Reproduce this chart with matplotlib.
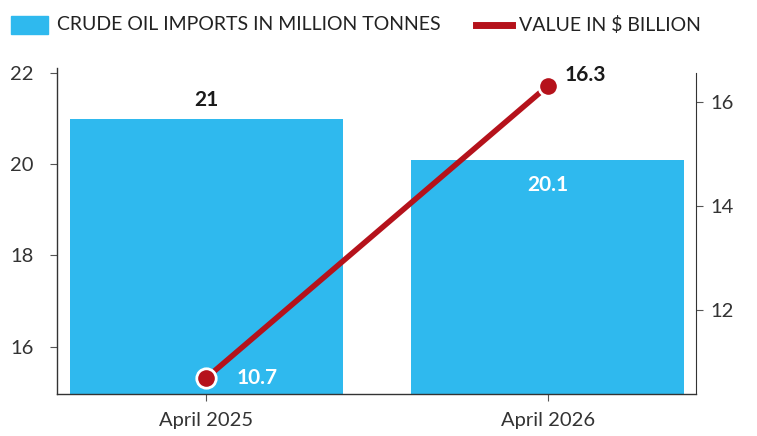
import matplotlib
matplotlib.use("Agg")
import matplotlib.pyplot as plt
from matplotlib.patches import Rectangle
from matplotlib.lines import Line2D

categories = ["April 2025", "April 2026"]
imports_mt = [21, 20.1]
value_bn = [10.7, 16.3]
left_ticks = [16, 18, 20, 22]
right_ticks = [12, 14, 16]

BLUE = "#2FB9EE"
RED = "#B5121B"
plt.rcParams['font.family'] = ['Lato', 'DejaVu Sans']

fig = plt.figure(figsize=(7.57, 4.36), dpi=100)
ax = fig.add_axes([0.0753, 0.0963, 0.8441, 0.748])
x = list(range(len(categories)))
ax.bar(x, imports_mt, width=0.80, color=BLUE, zorder=1)
ax.set_xlim(-0.438, 1.435)
ax.set_ylim(14.96, 22.11)
ax.set_yticks(left_ticks)
ax.set_xticks(x)
ax.set_xticklabels(categories, fontsize=14.5, color="#333333")
ax.tick_params(axis='y', length=5, width=0.8, pad=12, labelsize=14.5, labelcolor="#333333", color="#555555")
ax.tick_params(axis='x', length=5, width=0.8, pad=8, color="#555555")
for s in ['top', 'right']:
    ax.spines[s].set_visible(False)
for s in ['left', 'bottom']:
    ax.spines[s].set_color("#333333")
    ax.spines[s].set_linewidth(1.0)

ax2 = ax.twinx()
ax2.set_ylim(10.39, 16.65)
ax2.plot(x, value_bn, color=RED, lw=4, marker='o', markersize=14,
         markerfacecolor=RED, markeredgecolor='white', markeredgewidth=2, zorder=3, clip_on=False)
ax2.set_yticks(right_ticks)
ax2.tick_params(axis='y', length=5, width=0.8, pad=5, labelsize=14.5, labelcolor="#333333", color="#555555")
for s in ['top', 'left', 'bottom']:
    ax2.spines[s].set_visible(False)
ax2.spines['right'].set_color("#333333")
ax2.spines['right'].set_bounds(10.39, 16.55)

# bar labels
ax.annotate(f"{imports_mt[0]:g}", (x[0], imports_mt[0]), xytext=(0, 6), textcoords='offset points',
            ha='center', va='bottom', fontsize=15, fontweight='bold', color='#1a1a1a')
ax.annotate(f"{imports_mt[1]:g}", (x[1], imports_mt[1]), xytext=(0, -18), textcoords='offset points',
            ha='center', va='center', fontsize=15, fontweight='bold', color='white')
# line labels
ax2.annotate(f"{value_bn[0]:g}", (x[0], value_bn[0]), xytext=(22, 0), textcoords='offset points',
             ha='left', va='center', fontsize=15, fontweight='bold', color='white', zorder=4)
ax2.annotate(f"{value_bn[1]:g}", (x[1], value_bn[1]), xytext=(12, 8), textcoords='offset points',
             ha='left', va='center', fontsize=15, fontweight='bold', color='#1a1a1a', zorder=4)

# legend
fig.patches.append(Rectangle((11/757, 1-34/436), 37/757, 18/436, transform=fig.transFigure,
                             color=BLUE, figure=fig))
fig.text(57/757, 1-25/436, "CRUDE OIL IMPORTS IN MILLION TONNES", fontsize=14, color="#222222",
         va='center', ha='left')
fig.lines.append(Line2D([476/757, 512/757], [1-25/436, 1-25/436], transform=fig.transFigure,
                        color=RED, lw=5, figure=fig))
fig.text(519/757, 1-25/436, "VALUE IN $ BILLION", fontsize=14, color="#222222",
         va='center', ha='left')

fig.savefig("out.png", dpi=100, facecolor='white')
